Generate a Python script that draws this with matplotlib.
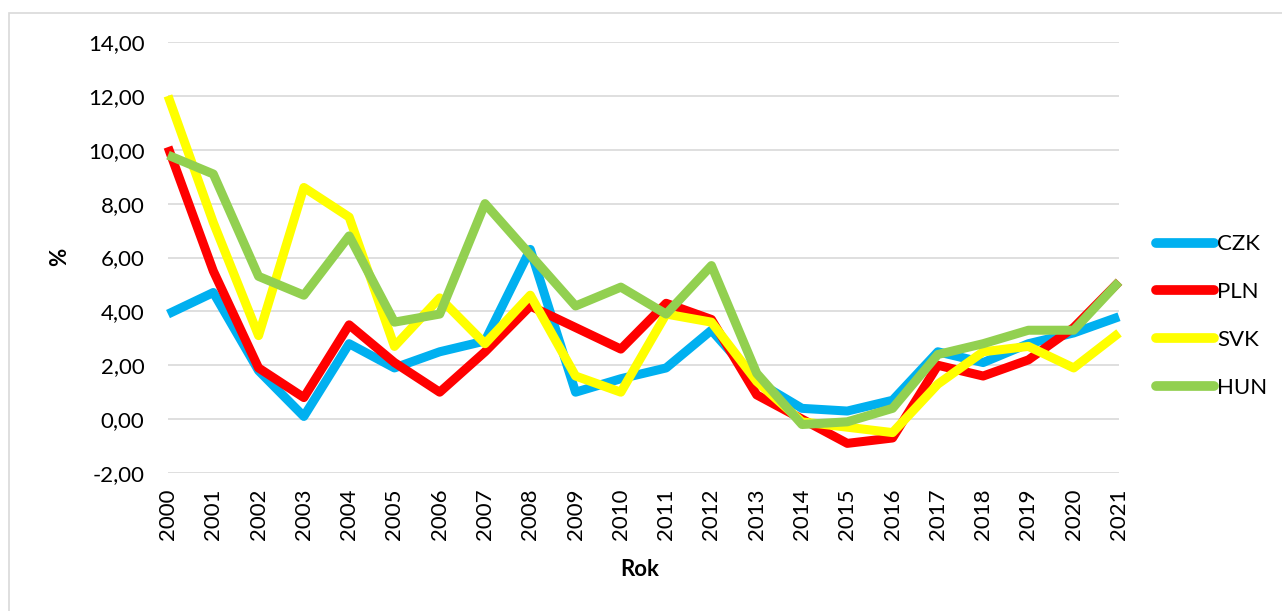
import matplotlib
matplotlib.use("Agg")
import matplotlib.pyplot as plt
from matplotlib.patches import Rectangle

plt.rcParams['font.family'] = ['Lato', 'DejaVu Sans']

years = list(range(2000, 2022))
year_labels = [str(y) for y in years]

czk = [3.9, 4.7, 1.8, 0.1, 2.8, 1.9, 2.5, 2.9, 6.3, 1.0, 1.5,
       1.9, 3.3, 1.4, 0.4, 0.3, 0.7, 2.5, 2.1, 2.8, 3.2, 3.8]
pln = [10.1, 5.5, 1.9, 0.8, 3.5, 2.1, 1.0, 2.5, 4.2, 3.4, 2.6,
       4.3, 3.7, 0.9, 0.0, -0.9, -0.7, 2.0, 1.6, 2.2, 3.4, 5.1]
svk = [12.0, 7.3, 3.1, 8.6, 7.5, 2.7, 4.5, 2.8, 4.6, 1.6, 1.0,
       3.9, 3.6, 1.4, -0.1, -0.3, -0.5, 1.3, 2.5, 2.7, 1.9, 3.2]
hun = [9.8, 9.1, 5.3, 4.6, 6.8, 3.6, 3.9, 8.0, 6.1, 4.2, 4.9,
       3.9, 5.7, 1.7, -0.2, -0.1, 0.4, 2.4, 2.8, 3.3, 3.3, 5.1]

series = [("CZK", czk, "#00B0F0"),
          ("PLN", pln, "#FF0000"),
          ("SVK", svk, "#FFFF00"),
          ("HUN", hun, "#92D050")]

y_ticks = [-2, 0, 2, 4, 6, 8, 10, 12, 14]

W, H = 1282, 611
fig = plt.figure(figsize=(W / 100, H / 100), dpi=100)
# chart border (only left/top visible in the crop)
fig.patches.append(Rectangle((9 / W, -0.1), 1.2, 1 - 13 / H + 0.1,
                             transform=fig.transFigure, fill=False,
                             edgecolor="#D9D9D9", linewidth=1.2))

ax_l, ax_r, ax_t, ax_b = 168, 1119, 42, 473
ax = fig.add_axes([ax_l / W, 1 - ax_b / H, (ax_r - ax_l) / W, (ax_b - ax_t) / H])

for name, vals, col in series:
    ax.plot(years, vals, color=col, lw=6.5, label=name,
            solid_joinstyle="round", solid_capstyle="butt", clip_on=False)

ax.set_xlim(years[0], years[-1])
ax.set_ylim(-2, 14)
ax.set_yticks(y_ticks)
ax.set_yticklabels([f"{v:.2f}".replace(".", ",") for v in y_ticks], fontsize=16)
ax.set_xticks(years)
ax.set_xticklabels(year_labels, rotation=90, fontsize=16)
ax.tick_params(axis="both", length=0)
ax.tick_params(axis="y", pad=17)
ax.tick_params(axis="x", pad=11)
ax.grid(axis="y", color="#D9D9D9", lw=1.2)
ax.set_axisbelow(True)
for s in ax.spines.values():
    s.set_visible(False)

fig.text(640 / W, 1 - 570 / H, "Rok", fontsize=16, fontweight="bold",
         ha="center", va="center")
fig.text(60 / W, 1 - 257 / H, "%", fontsize=16, fontweight="bold",
         rotation=90, ha="center", va="center")

leg = ax.legend(loc="center left",
                bbox_to_anchor=((1156 - ax_l) / (ax_r - ax_l), (ax_b - 316) / (ax_b - ax_t)),
                frameon=False, fontsize=16, handlelength=2.6,
                handletextpad=0.15, labelspacing=1.25, borderpad=0, borderaxespad=0)
for h in leg.get_lines():
    h.set_solid_capstyle("round")
    h.set_linewidth(7)

fig.savefig("out.png", dpi=100)
